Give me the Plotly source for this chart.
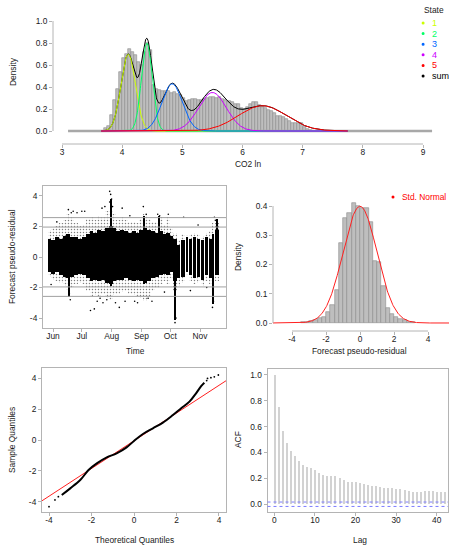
import numpy as np
import pandas as pd
import plotly.graph_objects as go

W, H = 449, 546
FONT = "Liberation Sans, Arial, sans-serif"
FS = 8.4
AXIS_GRAY = "#B4B4B4"
TXT = "#1a1a1a"


def fx(px):
    return px / W


def fy(py):
    return 1 - py / H


# ---------------- Panel 1: CO2 ln histogram + state densities ----------------
co2_bin_left = [3.70, 3.75, 3.80, 3.85, 3.90, 3.95, 4.00, 4.05, 4.10, 4.15, 4.20, 4.25,
                4.30, 4.35, 4.40, 4.45, 4.50, 4.55, 4.60, 4.65, 4.70, 4.75, 4.80, 4.85,
                4.90, 4.95, 5.00, 5.05, 5.10, 5.15, 5.20, 5.25, 5.30, 5.35, 5.40, 5.45,
                5.50, 5.55, 5.60, 5.65, 5.70, 5.75, 5.80, 5.85, 5.90, 5.95, 6.00, 6.05,
                6.10, 6.15, 6.20, 6.25, 6.30, 6.35, 6.40, 6.45, 6.50, 6.55, 6.60, 6.65,
                6.70, 6.75, 6.80, 6.85, 6.90, 6.95, 7.00, 7.05, 7.10]
co2_density = [0.027, 0.05, 0.15, 0.28, 0.38, 0.54, 0.66, 0.70, 0.75, 0.72, 0.69, 0.63,
               0.60, 0.72, 0.80, 0.74, 0.42, 0.38, 0.37, 0.36, 0.365, 0.36, 0.35, 0.355,
               0.34, 0.33, 0.30, 0.27, 0.28, 0.29, 0.295, 0.285, 0.28, 0.29, 0.30, 0.31,
               0.31, 0.30, 0.31, 0.29, 0.28, 0.27, 0.26, 0.25, 0.25, 0.21, 0.20, 0.22,
               0.25, 0.265, 0.26, 0.24, 0.22, 0.21, 0.19, 0.18, 0.16, 0.14, 0.14, 0.13,
               0.11, 0.09, 0.075, 0.075, 0.075, 0.07, 0.035, 0.02, 0.01]
co2_bin_width = 0.05
co2_hist_range = [3.10, 9.15]          # empty (zero-height) bins span this range
co2_curve_range = [3.65, 7.75]

state_labels = ["1", "2", "3", "4", "5"]
state_means = [4.10, 4.41, 4.83, 5.50, 6.33]
state_sds = [0.12, 0.09, 0.17, 0.23, 0.40]
state_weights = [0.21, 0.18, 0.183, 0.202, 0.231]
state_colors = ["#CCFF00", "#00FF66", "#0066FF", "#CC00FF", "#FF0000"]

co2_xticks = [3, 4, 5, 6, 7, 8, 9]
co2_yticks = [0.0, 0.2, 0.4, 0.6, 0.8, 1.0]

# ---------------- Panel 2: pseudo-residuals over time ----------------
seg_start = ["2020-05-27", "2020-05-30", "2020-06-03", "2020-06-07", "2020-06-11", "2020-06-15",
             "2020-06-19", "2020-06-23", "2020-06-27", "2020-07-01", "2020-07-05", "2020-07-09",
             "2020-07-13", "2020-07-17", "2020-07-21", "2020-07-25", "2020-07-29", "2020-08-02",
             "2020-08-06", "2020-08-10", "2020-08-14", "2020-08-18", "2020-08-22", "2020-08-26",
             "2020-08-30", "2020-09-03", "2020-09-07", "2020-09-11", "2020-09-15", "2020-09-19",
             "2020-09-23", "2020-09-27", "2020-10-01", "2020-10-04", "2020-10-08", "2020-10-12",
             "2020-10-17", "2020-10-21", "2020-10-25", "2020-10-29", "2020-11-02", "2020-11-06",
             "2020-11-10", "2020-11-13", "2020-11-17"]
seg_end = ["2020-05-30", "2020-06-03", "2020-06-07", "2020-06-11", "2020-06-15", "2020-06-19",
           "2020-06-23", "2020-06-27", "2020-07-01", "2020-07-05", "2020-07-09", "2020-07-13",
           "2020-07-17", "2020-07-21", "2020-07-25", "2020-07-29", "2020-08-02", "2020-08-06",
           "2020-08-10", "2020-08-14", "2020-08-18", "2020-08-22", "2020-08-26", "2020-08-30",
           "2020-09-03", "2020-09-07", "2020-09-11", "2020-09-15", "2020-09-19", "2020-09-23",
           "2020-09-27", "2020-10-01", "2020-10-04", "2020-10-08", "2020-10-11", "2020-10-16",
           "2020-10-20", "2020-10-24", "2020-10-28", "2020-11-01", "2020-11-05", "2020-11-09",
           "2020-11-13", "2020-11-16", "2020-11-21"]
core_lo = [-1.0, -1.1, -1.0, -1.2, -1.3, -1.4, -1.3, -1.2, -1.1, -1.2, -1.4, -1.6,
           -1.5, -1.6, -1.5, -1.7, -1.8, -1.6, -1.5, -1.5, -1.4, -1.5, -1.6, -1.5,
           -1.6, -1.7, -1.6, -1.4, -1.3, -1.2, -1.1, -1.2, -1.0, -1.6, -1.4, -1.3,
           -1.0, -1.2, -1.4, -1.3, -1.5, -1.2, -1.4, -1.6, -1.2]
core_hi = [1.2, 1.1, 1.3, 1.2, 1.4, 1.5, 1.3, 1.3, 1.2, 1.3, 1.5, 1.7,
           1.6, 1.8, 1.7, 1.9, 2.0, 1.9, 1.7, 1.8, 1.7, 1.6, 1.7, 1.6,
           1.8, 1.9, 1.8, 1.7, 1.6, 1.7, 1.5, 1.6, 1.4, 1.2, 0.8, 1.1,
           1.3, 1.2, 1.3, 1.2, 1.1, 1.3, 1.2, 1.5, 1.8]
fringe_lo = [-1.3, -1.5, -1.6, -1.7, -1.9, -2.2, -2.0, -1.8, -1.7, -1.8, -2.2, -2.6,
             -2.5, -2.6, -2.4, -2.7, -2.8, -2.5, -2.4, -2.3, -2.2, -2.4, -2.5, -2.6,
             -2.7, -2.9, -2.6, -2.2, -2.0, -1.8, -1.6, -1.8, -1.4, -2.2, -1.9, -1.7,
             -1.3, -1.6, -1.8, -1.7, -1.9, -1.6, -1.8, -2.2, -1.6]
fringe_hi = [1.8, 1.9, 2.0, 2.2, 2.4, 2.8, 2.6, 2.2, 2.0, 2.1, 2.5, 2.6,
             2.4, 2.7, 2.6, 3.0, 3.0, 2.8, 2.4, 2.6, 2.4, 2.3, 2.3, 2.2,
             2.5, 2.8, 2.5, 2.3, 2.3, 2.6, 2.1, 2.6, 1.9, 1.6, 1.1, 1.5,
             1.6, 1.5, 1.6, 1.5, 1.4, 1.6, 1.7, 2.2, 2.2]
# short dense excursions (columns of points)
spike_start = ["2020-06-17 00:00", "2020-07-31 00:00", "2020-09-03 00:00", "2020-09-19 00:00",
               "2020-10-05 12:00", "2020-11-14 00:00", "2020-11-18 00:00"]
spike_end = ["2020-06-18 00:00", "2020-08-01 12:00", "2020-09-04 00:00", "2020-09-20 00:00",
             "2020-10-06 18:00", "2020-11-15 06:00", "2020-11-19 00:00"]
spike_lo = [-2.6, -1.9, -1.8, -1.2, -4.1, -3.1, -1.0]
spike_hi = [1.2, 3.8, 2.7, 2.7, 0.8, 0.8, 2.5]

outlier_dates = ["2020-06-17", "2020-06-20", "2020-06-22", "2020-06-26", "2020-07-01", "2020-07-04",
                 "2020-06-18", "2020-06-19", "2020-05-30", "2020-06-05", "2020-07-10", "2020-07-14",
                 "2020-07-17", "2020-07-20", "2020-07-23", "2020-07-27", "2020-07-22", "2020-07-25",
                 "2020-07-30", "2020-07-31", "2020-08-01", "2020-07-30", "2020-08-02", "2020-08-05",
                 "2020-08-09", "2020-08-12", "2020-08-15", "2020-08-20", "2020-08-25", "2020-08-28",
                 "2020-09-03", "2020-09-06", "2020-09-08", "2020-09-12", "2020-09-18", "2020-09-20",
                 "2020-09-25", "2020-09-29", "2020-10-06", "2020-10-07", "2020-10-06", "2020-10-15",
                 "2020-10-22", "2020-10-30", "2020-11-08", "2020-11-14", "2020-11-15", "2020-11-16",
                 "2020-11-17"]
outlier_vals = [3.1, 2.9, 3.0, 2.9, 3.0, 3.0,
                -2.4, -2.8, -1.8, 2.3, -3.5, -3.4,
                -2.9, -2.7, -3.0, -2.8, 3.2, 3.3,
                4.3, 4.1, 3.8, 3.6, 3.3, -3.0,
                -3.3, 3.2, -2.9, 2.7, -2.9, -3.0,
                3.3, 2.8, -2.7, -2.9, 2.8, 2.7,
                -2.3, 2.8, -4.3, -4.0, -3.6, 2.6,
                -2.2, 2.1, -2.0, -3.3, -2.9, 2.6,
                2.4]
ref_levels = [-2.58, -1.96, 1.96, 2.58]
month_ticks = ["2020-06-01", "2020-07-01", "2020-08-01", "2020-09-01", "2020-10-01", "2020-11-01"]
month_labels = ["Jun", "Jul", "Aug", "Sep", "Oct", "Nov"]
resid_yticks = [-4, -2, 0, 2, 4]

# ---------------- Panel 3: residual histogram ----------------
res_bin_left = [-3.50, -3.25, -3.00, -2.75, -2.50, -2.25, -2.00, -1.75, -1.50, -1.25,
                -1.00, -0.75, -0.50, -0.25, 0.00, 0.25, 0.50, 0.75, 1.00, 1.25,
                1.50, 1.75, 2.00, 2.25, 2.50, 2.75, 3.00]
res_density = [0.002, 0.003, 0.006, 0.010, 0.016, 0.021, 0.036, 0.062, 0.113, 0.272,
               0.360, 0.376, 0.410, 0.401, 0.392, 0.394, 0.345, 0.213, 0.210, 0.125,
               0.050, 0.030, 0.020, 0.014, 0.009, 0.005, 0.003]
res_bin_width = 0.25
norm_range = [-5.3, 5.3]
res_xticks = [-4, -2, 0, 2, 4]
res_xticktext = ["-4", "-2", "0", "2", "4"]
res_yticks = [0.0, 0.1, 0.2, 0.3, 0.4]

# ---------------- Panel 4: QQ plot ----------------
qq_theoretical = [-3.40, -3.00, -2.53, -2.14, -1.75, -1.28, -0.82, -0.35, 0.00, 0.42,
                  0.89, 1.36, 1.83, 2.22, 2.61, 2.92, 3.16, 3.31]
qq_sample = [-3.57, -3.14, -2.60, -1.95, -1.52, -1.13, -0.87, -0.48, -0.06, 0.39,
             0.76, 1.13, 1.62, 2.06, 2.49, 3.03, 3.50, 3.72]
qq_tail_theoretical = [-4.00, -3.72, -3.56, 3.42, 3.46, 3.62, 3.78, 3.97]
qq_tail_sample = [-4.33, -3.89, -3.68, 3.86, 4.00, 4.05, 4.10, 4.22]
qq_line_intercept = -0.05
qq_line_slope = 0.90
qq_ticks = [-4, -2, 0, 2, 4]

# ---------------- Panel 5: ACF ----------------
acf_lag = list(range(43))
acf_val = [1.0, 0.75, 0.57, 0.47, 0.41, 0.375, 0.335, 0.30, 0.29, 0.28,
           0.265, 0.245, 0.23, 0.22, 0.218, 0.218, 0.205, 0.19, 0.175, 0.17,
           0.17, 0.168, 0.155, 0.148, 0.14, 0.138, 0.132, 0.128, 0.125, 0.122,
           0.12, 0.115, 0.11, 0.10, 0.095, 0.095, 0.098, 0.10, 0.10, 0.10,
           0.098, 0.095, 0.093]
acf_ci = 0.017
acf_xticks = [0, 10, 20, 30, 40]
acf_yticks = [0.0, 0.2, 0.4, 0.6, 0.8, 1.0]

# =====================================================================
fig = go.Figure()
BAR_FILL = "#BEBEBE"
BAR_EDGE = "#8C8C8C"

# Panel 1
co2_centers = [l + co2_bin_width / 2 for l in co2_bin_left]
fig.add_trace(go.Scatter(x=co2_hist_range, y=[0, 0], mode="lines",
                         line=dict(color="#A8A8A8", width=2.6), xaxis="x", yaxis="y",
                         showlegend=False, hoverinfo="skip"))
fig.add_trace(go.Bar(x=co2_centers, y=co2_density, width=co2_bin_width,
                     marker=dict(color=BAR_FILL, line=dict(color=BAR_EDGE, width=0.6)),
                     xaxis="x", yaxis="y", showlegend=False))
xg = np.linspace(co2_curve_range[0], co2_curve_range[1], 800)
total = np.zeros_like(xg)
comps = []
for m, s, w in zip(state_means, state_sds, state_weights):
    d = w * np.exp(-0.5 * ((xg - m) / s) ** 2) / (s * np.sqrt(2 * np.pi))
    comps.append(d)
    total += d
fig.add_trace(go.Scatter(x=xg, y=total, mode="lines", line=dict(color="black", width=1),
                         xaxis="x", yaxis="y", showlegend=False))
for d, c in zip(comps, state_colors):
    fig.add_trace(go.Scatter(x=xg, y=d, mode="lines", line=dict(color=c, width=1),
                             xaxis="x", yaxis="y", showlegend=False))


# Panel 2
def seg_bars(s_list, e_list, lo, hi, marker):
    s_ = pd.to_datetime(s_list)
    e_ = pd.to_datetime(e_list)
    m_ = s_ + (e_ - s_) / 2
    w_ = [(e - s).total_seconds() * 1000 for s, e in zip(s_, e_)]
    return go.Bar(x=m_, y=[h - l for l, h in zip(lo, hi)], base=lo, width=w_,
                  marker=marker, xaxis="x2", yaxis="y2", showlegend=False)


fig.add_trace(seg_bars(seg_start, seg_end, fringe_lo, fringe_hi,
                       dict(color="white", line=dict(width=0),
                            pattern=dict(shape=".", fgcolor="black", bgcolor="white",
                                         size=3, solidity=0.18))))
fig.add_trace(seg_bars(seg_start, seg_end, core_lo, core_hi,
                       dict(color="black", line=dict(width=0))))
fig.add_trace(seg_bars(spike_start, spike_end, spike_lo, spike_hi,
                       dict(color="black", line=dict(width=0))))
fig.add_trace(go.Scatter(x=pd.to_datetime(outlier_dates), y=outlier_vals, mode="markers",
                         marker=dict(color="black", size=1.6), xaxis="x2", yaxis="y2",
                         showlegend=False))

# Panel 3
res_centers = [l + res_bin_width / 2 for l in res_bin_left]
fig.add_trace(go.Bar(x=res_centers, y=res_density, width=res_bin_width,
                     marker=dict(color=BAR_FILL, line=dict(color=BAR_EDGE, width=0.6)),
                     xaxis="x3", yaxis="y3", showlegend=False))
xn = np.linspace(norm_range[0], norm_range[1], 400)
fig.add_trace(go.Scatter(x=xn, y=np.exp(-0.5 * xn ** 2) / np.sqrt(2 * np.pi), mode="lines",
                         line=dict(color="#FF2020", width=1), xaxis="x3", yaxis="y3",
                         showlegend=False))

# Panel 4
qx0, qx1 = -4.33, 4.33
fig.add_trace(go.Scatter(x=[qx0, qx1],
                         y=[qq_line_intercept + qq_line_slope * qx0,
                            qq_line_intercept + qq_line_slope * qx1],
                         mode="lines", line=dict(color="#FF2020", width=1),
                         xaxis="x4", yaxis="y4", showlegend=False))
fig.add_trace(go.Scatter(x=qq_theoretical, y=qq_sample, mode="lines",
                         line=dict(color="black", width=2.0, shape="spline"),
                         xaxis="x4", yaxis="y4", showlegend=False))
fig.add_trace(go.Scatter(x=qq_tail_theoretical, y=qq_tail_sample, mode="markers",
                         marker=dict(color="black", size=1.8), xaxis="x4", yaxis="y4",
                         showlegend=False))

# Panel 5
fig.add_trace(go.Bar(x=acf_lag, y=acf_val, width=0.36,
                     marker=dict(color="#D2D2D2", line=dict(width=0)),
                     xaxis="x5", yaxis="y5", showlegend=False))
for v in (-acf_ci, acf_ci):
    fig.add_shape(type="line", xref="x5 domain", yref="y5", x0=0, x1=1, y0=v, y1=v,
                  line=dict(color="#7C7CFF", width=1, dash="dot"))

# reference lines panel 2
for v in ref_levels:
    fig.add_shape(type="line", xref="x2 domain", yref="y2", x0=0, x1=1, y0=v, y1=v,
                  line=dict(color="#A0A0A0", width=1), layer="above")

tickfont = dict(family=FONT, size=FS, color=TXT)
common = dict(showgrid=False, zeroline=False, ticks="outside", ticklen=3,
              tickcolor=AXIS_GRAY, tickfont=tickfont)
xcommon = dict(common, ticklabelstandoff=-3)
boxed = dict(showline=True, mirror=True, linecolor=AXIS_GRAY, linewidth=1)

fig.update_layout(
    width=W, height=H, margin=dict(l=0, r=0, t=0, b=0),
    paper_bgcolor="white", plot_bgcolor="white", barmode="overlay", bargap=0,
    font=dict(family=FONT, size=FS, color=TXT), showlegend=False,
    xaxis=dict(domain=[fx(53), fx(440)], range=[2.850, 9.282], anchor="y",
               tickvals=co2_xticks, showline=False, **xcommon),
    yaxis=dict(domain=[fy(144), fy(12)], range=[-0.118, (131 - 12) / 110], anchor="x",
               tickvals=co2_yticks, tickformat=".1f", showline=False, **common),
    xaxis2=dict(domain=[fx(43), fx(226)], type="date",
                range=["2020-05-21 14:00", "2020-11-28 01:30"], anchor="y2",
                tickvals=month_ticks, ticktext=month_labels, **boxed, **xcommon),
    yaxis2=dict(domain=[fy(328), fy(186)], range=[-4.65, 4.65], anchor="x2",
                tickvals=resid_yticks, ticktext=[str(v) for v in resid_yticks],
                **boxed, **common),
    xaxis3=dict(domain=[fx(273), fx(449)], range=[(273 - 360) / 17, (449 - 360) / 17],
                anchor="y3", tickvals=res_xticks, ticktext=res_xticktext, showline=False,
                **xcommon),
    yaxis3=dict(domain=[fy(331), fy(185)], range=[(323 - 331) / 292.5, (323 - 185) / 292.5],
                anchor="x3", tickvals=res_yticks, tickformat=".1f", showline=False, **common),
    xaxis4=dict(domain=[fx(42), fx(226)], range=[qx0, qx1], anchor="y4",
                tickvals=qq_ticks, ticktext=[str(v) for v in qq_ticks], **boxed, **xcommon),
    yaxis4=dict(domain=[fy(512), fy(368)], range=[-4.675, 4.675], anchor="x4",
                tickvals=qq_ticks, ticktext=[str(v) for v in qq_ticks], **boxed, **common),
    xaxis5=dict(domain=[fx(267.5), fx(448)], range=[-1.68, 42.78], anchor="y5",
                tickvals=acf_xticks, **boxed, **xcommon),
    yaxis5=dict(domain=[fy(512), fy(369)], range=[-0.06, 1.046], anchor="x5",
                tickvals=acf_yticks, tickformat=".1f", **boxed, **common),
)

# R-style axis lines (span first to last tick) for open panels
fig.add_shape(type="line", xref="x", yref="paper", x0=co2_xticks[0], x1=co2_xticks[-1],
              y0=fy(144), y1=fy(144), line=dict(color=AXIS_GRAY, width=1))
fig.add_shape(type="line", xref="paper", yref="y", x0=fx(53), x1=fx(53),
              y0=co2_yticks[0], y1=co2_yticks[-1], line=dict(color=AXIS_GRAY, width=1))
fig.add_shape(type="line", xref="x3", yref="paper", x0=res_xticks[0], x1=res_xticks[-1],
              y0=fy(331), y1=fy(331), line=dict(color=AXIS_GRAY, width=1))
fig.add_shape(type="line", xref="paper", yref="y3", x0=fx(273), x1=fx(273),
              y0=res_yticks[0], y1=res_yticks[-1], line=dict(color=AXIS_GRAY, width=1))


# Axis titles
def title(text, px, py, rot=0):
    fig.add_annotation(text=text, x=fx(px), y=fy(py), xref="paper", yref="paper",
                       showarrow=False, textangle=rot, xanchor="center", yanchor="middle",
                       font=dict(family=FONT, size=FS, color=TXT))


title("Density", 13, 72, -90)
title("CO2 ln", 248, 164)
title("Forecast pseudo-residual", 12, 257, -90)
title("Time", 135, 351)
title("Density", 238, 257, -90)
title("Forecast pseudo-residual", 359, 351)
title("Sample Quantiles", 12, 440, -90)
title("Theoretical Quantiles", 134, 540)
title("ACF", 238, 440, -90)
title("Lag", 360, 540)

# State legend
fig.add_annotation(text="State", x=fx(422), y=fy(10), xref="paper", yref="paper",
                   showarrow=False, xanchor="left", yanchor="middle",
                   font=dict(family=FONT, size=FS, color=TXT))
leg_labels = state_labels + ["sum"]
leg_colors = state_colors + ["black"]
for i, (lab, col) in enumerate(zip(leg_labels, leg_colors)):
    yy = 23 + i * 10.6
    fig.add_shape(type="circle", xref="paper", yref="paper",
                  x0=fx(421.6), x1=fx(424.6), y0=fy(yy + 1.5), y1=fy(yy - 1.5),
                  fillcolor=col, line=dict(width=0))
    fig.add_annotation(text=lab, x=fx(430), y=fy(yy), xref="paper", yref="paper",
                       showarrow=False, xanchor="left", yanchor="middle",
                       font=dict(family=FONT, size=FS + 0.6, color=col))

# Std. Normal legend
fig.add_shape(type="circle", xref="paper", yref="paper",
              x0=fx(391.5), x1=fx(394.5), y0=fy(198.5), y1=fy(195.5),
              fillcolor="#FF0000", line=dict(width=0))
fig.add_annotation(text="Std. Normal", x=fx(400), y=fy(197), xref="paper", yref="paper",
                   showarrow=False, xanchor="left", yanchor="middle",
                   font=dict(family=FONT, size=FS, color="#FF0000"))

fig.write_html("out.html", config={"displayModeBar": False},
               post_script="document.body.style.margin='0';document.body.style.overflow='hidden';")
